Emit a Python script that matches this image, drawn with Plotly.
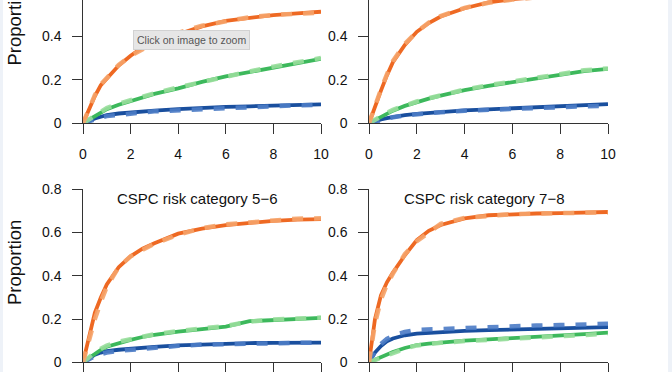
import plotly.graph_objects as go

# ---------------- data ----------------
years = [0, 0.25, 0.5, 0.75, 1, 1.5, 2, 2.5, 3, 4, 5, 6, 7, 8, 9, 10]

x_ticks = [0, 2, 4, 6, 8, 10]
y_ticks = [0, 0.2, 0.4, 0.6, 0.8]
y_tick_labels = ["0", "0.2", "0.4", "0.6", "0.8"]

panel_titles = ["", "", "CSPC risk category 5\u22126", "CSPC risk category 7\u22128"]

# panel 1 (top-left)
p1_orange_obs = [0, 0.065, 0.125, 0.175, 0.205, 0.265, 0.31, 0.348, 0.372, 0.41, 0.445, 0.47, 0.485, 0.497, 0.505, 0.512]
p1_orange_pred = [0, 0.07, 0.13, 0.178, 0.208, 0.268, 0.31, 0.342, 0.37, 0.415, 0.448, 0.468, 0.487, 0.498, 0.505, 0.508]
p1_green_obs = [0, 0.015, 0.035, 0.05, 0.065, 0.085, 0.103, 0.12, 0.135, 0.16, 0.19, 0.215, 0.235, 0.255, 0.277, 0.296]
p1_green_pred = [0, 0.018, 0.04, 0.055, 0.07, 0.09, 0.107, 0.123, 0.138, 0.165, 0.19, 0.218, 0.238, 0.26, 0.28, 0.3]
p1_blue_obs = [0, 0.012, 0.022, 0.03, 0.037, 0.045, 0.05, 0.054, 0.058, 0.065, 0.071, 0.075, 0.078, 0.082, 0.085, 0.087]
p1_blue_pred = [0, 0.01, 0.02, 0.027, 0.033, 0.04, 0.045, 0.05, 0.055, 0.06, 0.068, 0.072, 0.076, 0.08, 0.083, 0.085]

# panel 2 (top-right)
p2_orange_obs = [0, 0.08, 0.15, 0.22, 0.28, 0.36, 0.42, 0.46, 0.49, 0.528, 0.555, 0.57, 0.58, 0.59, 0.595, 0.6]
p2_orange_pred = [0, 0.085, 0.155, 0.225, 0.285, 0.365, 0.42, 0.462, 0.492, 0.53, 0.553, 0.568, 0.58, 0.588, 0.594, 0.598]
p2_green_obs = [0, 0.015, 0.03, 0.045, 0.058, 0.08, 0.098, 0.113, 0.127, 0.152, 0.172, 0.19, 0.208, 0.225, 0.24, 0.25]
p2_green_pred = [0, 0.018, 0.034, 0.048, 0.062, 0.083, 0.1, 0.115, 0.13, 0.155, 0.175, 0.193, 0.21, 0.228, 0.243, 0.252]
p2_blue_obs = [0, 0.01, 0.018, 0.024, 0.03, 0.038, 0.043, 0.048, 0.052, 0.059, 0.064, 0.068, 0.072, 0.076, 0.08, 0.088]
p2_blue_pred = [0, 0.008, 0.015, 0.022, 0.028, 0.036, 0.042, 0.047, 0.051, 0.058, 0.063, 0.067, 0.071, 0.075, 0.078, 0.08]

# panel 3 (bottom-left)
p3_orange_obs = [0, 0.12, 0.23, 0.3, 0.36, 0.44, 0.49, 0.525, 0.55, 0.595, 0.618, 0.634, 0.645, 0.654, 0.66, 0.662]
p3_orange_pred = [0, 0.11, 0.2, 0.28, 0.35, 0.44, 0.49, 0.52, 0.548, 0.59, 0.62, 0.638, 0.648, 0.656, 0.664, 0.666]
p3_green_obs = [0, 0.02, 0.04, 0.058, 0.072, 0.09, 0.104, 0.117, 0.127, 0.142, 0.155, 0.165, 0.19, 0.196, 0.2, 0.205]
p3_green_pred = [0, 0.025, 0.045, 0.063, 0.077, 0.095, 0.108, 0.12, 0.13, 0.145, 0.157, 0.168, 0.188, 0.198, 0.202, 0.207]
p3_blue_obs = [0, 0.02, 0.035, 0.045, 0.052, 0.058, 0.063, 0.067, 0.071, 0.078, 0.083, 0.087, 0.089, 0.09, 0.091, 0.091]
p3_blue_pred = [0, 0.015, 0.028, 0.038, 0.045, 0.053, 0.058, 0.064, 0.068, 0.076, 0.082, 0.085, 0.088, 0.09, 0.09, 0.09]

# panel 4 (bottom-right)
p4_orange_obs = [0, 0.2, 0.31, 0.37, 0.415, 0.495, 0.565, 0.608, 0.635, 0.665, 0.68, 0.686, 0.688, 0.69, 0.692, 0.695]
p4_orange_pred = [0, 0.18, 0.29, 0.36, 0.41, 0.5, 0.56, 0.6, 0.64, 0.668, 0.678, 0.685, 0.688, 0.691, 0.694, 0.693]
p4_green_obs = [0, 0.012, 0.025, 0.037, 0.048, 0.066, 0.08, 0.086, 0.091, 0.1, 0.106, 0.111, 0.116, 0.122, 0.13, 0.137]
p4_green_pred = [0, 0.01, 0.022, 0.034, 0.045, 0.063, 0.078, 0.085, 0.09, 0.098, 0.104, 0.11, 0.115, 0.12, 0.127, 0.132]
p4_blue_obs = [0, 0.045, 0.075, 0.097, 0.11, 0.125, 0.133, 0.137, 0.14, 0.145, 0.149, 0.152, 0.155, 0.157, 0.16, 0.163]
p4_blue_pred = [0, 0.05, 0.085, 0.108, 0.123, 0.14, 0.15, 0.152, 0.155, 0.162, 0.165, 0.168, 0.17, 0.172, 0.175, 0.178]

panels = [
    [(p1_orange_obs, p1_orange_pred), (p1_green_obs, p1_green_pred), (p1_blue_obs, p1_blue_pred)],
    [(p2_orange_obs, p2_orange_pred), (p2_green_obs, p2_green_pred), (p2_blue_obs, p2_blue_pred)],
    [(p3_orange_obs, p3_orange_pred), (p3_green_obs, p3_green_pred), (p3_blue_obs, p3_blue_pred)],
    [(p4_orange_obs, p4_orange_pred), (p4_green_obs, p4_green_pred), (p4_blue_obs, p4_blue_pred)],
]

# ---------------- style ----------------
W, H = 672, 372
solid_colors = ["#EE6A24", "#3DBA5C", "#1C4F9E"]
dash_colors = ["#F6A46A", "#98DE9C", "#4D7DC6"]
FONT = "Liberation Sans, Arial, Helvetica, sans-serif"
AXC = "#333333"
TXT = "#111111"

def px_x(p):
    return p / W

def px_y(p):
    return (H - p) / H

x_domains = [[px_x(83), px_x(321)], [px_x(369), px_x(608)]]
top_dom = [px_y(123.3), 1.0]
bot_dom = [px_y(362.3), px_y(189.3)]
y_domains = [top_dom, top_dom, bot_dom, bot_dom]
y_ranges = [[0, 0.566], [0, 0.566], [0, 0.8], [0, 0.8]]

fig = go.Figure()

for i, series in enumerate(panels):
    xa = "x" if i == 0 else f"x{i+1}"
    ya = "y" if i == 0 else f"y{i+1}"
    for k in [2, 1, 0]:
        obs, pred = series[k]
        fig.add_trace(go.Scatter(x=years, y=obs, mode="lines", xaxis=xa, yaxis=ya,
                                 line=dict(color=solid_colors[k], width=3.8),
                                 showlegend=False, hoverinfo="skip"))
    for k in [2, 1, 0]:
        obs, pred = series[k]
        fig.add_trace(go.Scatter(x=years, y=pred, mode="lines", xaxis=xa, yaxis=ya,
                                 line=dict(color=dash_colors[k], width=4.5, dash="11px,11px"),
                                 opacity=0.9, showlegend=False, hoverinfo="skip"))

layout = dict(
    width=W, height=H, autosize=False,
    margin=dict(l=0, r=0, t=0, b=0, pad=0, autoexpand=False),
    paper_bgcolor="white", plot_bgcolor="white",
    font=dict(family=FONT, size=14, color=TXT),
)

for i in range(4):
    xkey = "xaxis" if i == 0 else f"xaxis{i+1}"
    ykey = "yaxis" if i == 0 else f"yaxis{i+1}"
    ya = "y" if i == 0 else f"y{i+1}"
    xa = "x" if i == 0 else f"x{i+1}"
    layout[xkey] = dict(domain=x_domains[i % 2], range=[0, 10], anchor=ya,
                        tickvals=x_ticks, ticktext=[str(v) for v in x_ticks],
                        showticklabels=(i < 2), automargin=False,
                        showline=True, linecolor=AXC, linewidth=1.3,
                        ticks="outside", ticklen=9.5, tickwidth=1.3, tickcolor=AXC,
                        showgrid=False, zeroline=False, ticklabelstandoff=8,
                        tickfont=dict(size=14, color=TXT), fixedrange=True)
    layout[ykey] = dict(domain=y_domains[i], range=y_ranges[i], anchor=xa,
                        tickvals=y_ticks, ticktext=y_tick_labels, automargin=False,
                        showline=True, linecolor=AXC, linewidth=1.3,
                        ticks="outside", ticklen=9.5, tickwidth=1.3, tickcolor=AXC,
                        showgrid=False, zeroline=False, ticklabelstandoff=8,
                        tickfont=dict(size=14, color=TXT), fixedrange=True)

fig.update_layout(**layout)

annotations = [
    dict(text=panel_titles[2], x=px_x(197), y=px_y(198), xref="paper", yref="paper",
         showarrow=False, font=dict(size=15, color=TXT), xanchor="center", yanchor="middle"),
    dict(text=panel_titles[3], x=px_x(483.5), y=px_y(198), xref="paper", yref="paper",
         showarrow=False, font=dict(size=15, color=TXT), xanchor="center", yanchor="middle"),
    dict(text="Proportion", x=px_x(14.5), y=px_y(262.5), xref="paper", yref="paper",
         showarrow=False, textangle=-90, font=dict(size=18.5, color=TXT),
         xanchor="center", yanchor="middle"),
    dict(text="Proportion", x=px_x(14.5), y=px_y(23), xref="paper", yref="paper",
         showarrow=False, textangle=-90, font=dict(size=18.5, color=TXT),
         xanchor="center", yanchor="middle"),
    dict(text="Click on image to zoom", x=px_x(191), y=px_y(40), xref="paper", yref="paper",
         showarrow=False, font=dict(size=10.5, color="#555555"),
         bgcolor="#E6E6E6", bordercolor="#D2D2D2", borderwidth=1, borderpad=3,
         xanchor="center", yanchor="middle"),
]
fig.update_layout(annotations=annotations)

fig.update_layout(shapes=[
    dict(type="rect", xref="paper", yref="paper", x0=0, x1=px_x(3), y0=0, y1=1,
         fillcolor="#EEF2F8", line=dict(width=0), layer="below"),
    dict(type="rect", xref="paper", yref="paper", x0=px_x(668), x1=1, y0=0, y1=1,
         fillcolor="#EEF2F8", line=dict(width=0), layer="below"),
])

fig.write_html("out.html", config={"displayModeBar": False},
               post_script="document.body.style.margin='0';document.body.style.overflow='hidden';")
